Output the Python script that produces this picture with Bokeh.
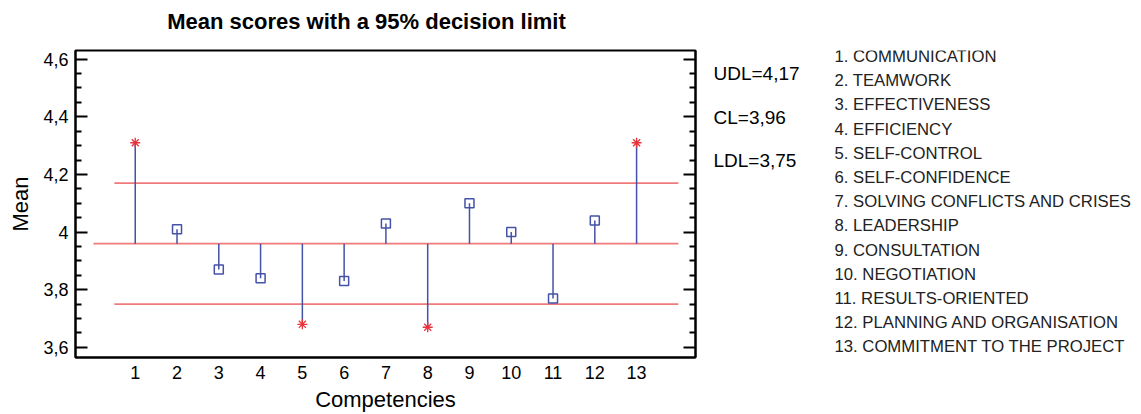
from bokeh.plotting import figure
from bokeh.layouts import row, column
from bokeh.models import (ColumnDataSource, FixedTicker, LinearAxis, Range1d,
                          CustomJSTickFormatter)
from bokeh.core.properties import value
from bokeh.embed import file_html
from bokeh.resources import INLINE

# ---------------- data ----------------
title_text = "Mean scores with a 95% decision limit"
competency_ids = list(range(1, 14))
competencies = ["COMMUNICATION", "TEAMWORK", "EFFECTIVENESS", "EFFICIENCY",
                "SELF-CONTROL", "SELF-CONFIDENCE", "SOLVING CONFLICTS AND CRISES",
                "LEADERSHIP", "CONSULTATION", "NEGOTIATION", "RESULTS-ORIENTED",
                "PLANNING AND ORGANISATION", "COMMITMENT TO THE PROJECT"]
means = [4.31, 4.01, 3.87, 3.84, 3.68, 3.83, 4.03, 3.67, 4.10, 4.00, 3.77, 4.04, 4.31]
UDL = 4.17
CL = 3.96
LDL = 3.75
y_ticks = [3.6, 3.8, 4.0, 4.2, 4.4, 4.6]
y_tick_labels = ["3,6", "3,8", "4", "4,2", "4,4", "4,6"]
y_minor_ticks = [3.55, 3.65, 3.7, 3.75, 3.85, 3.9, 3.95, 4.05, 4.1, 4.15,
                 4.25, 4.3, 4.35, 4.45, 4.5, 4.55]
limit_texts = ["UDL=4,17", "CL=3,96", "LDL=3,75"]
legend_texts = [f"{n}. {name}" for n, name in zip(competency_ids, competencies)]

# ---------------- layout (page pixels) ----------------
TOTAL_W, TOTAL_H = 1141, 414
HT = 40                      # title strip height
H = TOTAL_H - HT             # chart row height
WA = 700
WB = TOTAL_W - WA
FL, FR, FT, FB = 75, 695, 50, 357   # chart frame on the page
FONT = "Liberation Sans"
BLUE = "#4452a8"
RED = "#e8333d"
PINK = "#f07a7a"

# ---------------- title strip ----------------
t = figure(width=TOTAL_W, height=HT, output_backend="svg", toolbar_location=None,
           x_range=Range1d(0, TOTAL_W), y_range=Range1d(HT, 0),
           x_axis_type=None, y_axis_type=None, min_border=0)
t.grid.visible = False
t.outline_line_color = None
t.background_fill_color = "white"
t.border_fill_color = "white"
t.text(x=[366], y=[21], text=[title_text], text_font=value(FONT),
       text_font_size="22px", text_font_style="bold", text_color="black",
       text_align="center", text_baseline="alphabetic")

# ---------------- main chart ----------------
p = figure(width=WA, height=H, output_backend="svg", toolbar_location=None,
           x_range=Range1d(-0.43, 14.41), y_range=Range1d(3.565, 4.63),
           min_border_left=FL, min_border_right=WA - FR,
           min_border_top=FT - HT, min_border_bottom=TOTAL_H - FB)
p.grid.visible = False
p.outline_line_color = "black"
p.outline_line_width = 2
p.background_fill_color = "white"
p.border_fill_color = "white"

# x axis
xa = p.xaxis[0]
xa.ticker = FixedTicker(ticks=competency_ids)
xa.major_tick_in = 0
xa.major_tick_out = 0
xa.minor_tick_in = 0
xa.minor_tick_out = 0
xa.axis_line_color = "black"
xa.axis_line_width = 2
xa.major_label_standoff = 8
xa.major_label_text_font = FONT
xa.major_label_text_font_size = "18px"
xa.major_label_text_color = "black"
xa.axis_label = "Competencies"
xa.axis_label_standoff = 5
xa.axis_label_text_font = FONT
xa.axis_label_text_font_size = "22px"
xa.axis_label_text_font_style = "normal"
xa.axis_label_text_color = "black"

fmt = CustomJSTickFormatter(args=dict(tvals=y_ticks, tlabels=y_tick_labels), code="""
const i = tvals.findIndex(t => Math.abs(t - tick) < 1e-9);
return i >= 0 ? tlabels[i] : '';
""")
blank_fmt = CustomJSTickFormatter(code="return '';")


def style_y(ax, show_labels):
    ax.ticker = FixedTicker(ticks=y_ticks, minor_ticks=y_minor_ticks)
    ax.major_tick_in = 12
    ax.major_tick_out = 0
    ax.minor_tick_in = 6
    ax.minor_tick_out = 0
    ax.major_tick_line_width = 2
    ax.minor_tick_line_width = 2
    ax.major_tick_line_color = "black"
    ax.minor_tick_line_color = "black"
    ax.axis_line_color = "black"
    ax.axis_line_width = 2
    ax.formatter = fmt if show_labels else blank_fmt
    ax.major_label_standoff = 7 if show_labels else 0
    ax.major_label_text_font = FONT
    ax.major_label_text_font_size = "18px"
    ax.major_label_text_color = "black"


ya = p.yaxis[0]
style_y(ya, True)
ya.axis_label = "Mean"
ya.axis_label_standoff = 7
ya.axis_label_text_font = FONT
ya.axis_label_text_font_size = "22px"
ya.axis_label_text_font_style = "normal"
ya.axis_label_text_color = "black"

ra = LinearAxis()
style_y(ra, False)
p.add_layout(ra, "right")

# limit lines: centre line and decision limits
p.segment(x0=[0, 0.5, 0.5], y0=[CL, UDL, LDL], x1=[14, 14, 14], y1=[CL, UDL, LDL],
          line_color=PINK, line_width=1.6)

# stems from the centre line to each mean
src = ColumnDataSource(dict(x=competency_ids, y=means, base=[CL] * len(means)))
p.segment(x0="x", y0="base", x1="x", y1="y", source=src, line_color=BLUE, line_width=1.5)

inside = [(x, m) for x, m in zip(competency_ids, means) if LDL <= m <= UDL]
outside = [(x, m) for x, m in zip(competency_ids, means) if not (LDL <= m <= UDL)]
p.scatter(x=[a for a, _ in inside], y=[b for _, b in inside], marker="square",
          size=9, fill_color=None, line_color=BLUE, line_width=1.5)
p.scatter(x=[a for a, _ in outside], y=[b for _, b in outside], marker="asterisk",
          size=10, line_color=RED, line_width=1.3)

# ---------------- right-hand text panel (page pixel coordinates) ----------------
# the row aligns this panel's frame with the chart frame (FT..FB on the page)
q = figure(width=WB, height=H, output_backend="svg", toolbar_location=None,
           x_range=Range1d(WA, TOTAL_W), y_range=Range1d(FB, FT),
           x_axis_type=None, y_axis_type=None, min_border=0)
q.grid.visible = False
q.outline_line_color = None
q.background_fill_color = "white"
q.border_fill_color = "white"

q.text(x=[713] * len(limit_texts), y=[73.3 + i * 43.3 for i in range(len(limit_texts))],
       text=limit_texts, text_font=value(FONT), text_font_size="19px",
       text_color="black", text_baseline="alphabetic", text_align="left")
q.text(x=[834] * len(legend_texts), y=[56 + i * 24.2 for i in range(len(legend_texts))],
       text=legend_texts, text_font=value(FONT), text_font_size="16.7px",
       text_color="#222222", text_baseline="alphabetic", text_align="left")

open("out.html", "w").write(file_html(column(t, row(p, q)), INLINE))
